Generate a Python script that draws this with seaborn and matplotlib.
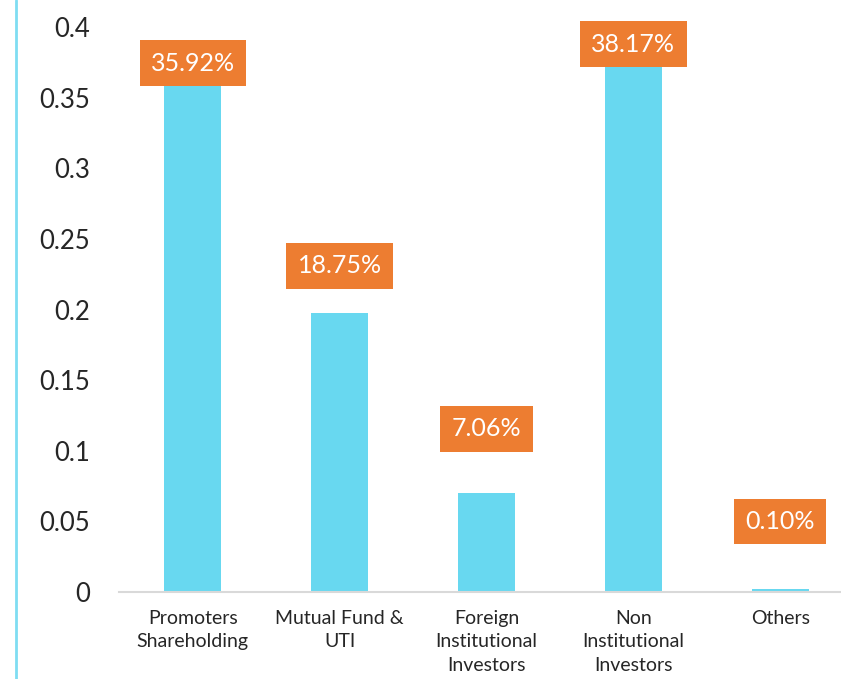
import matplotlib
matplotlib.use("Agg")
import matplotlib.pyplot as plt
import seaborn as sns
import pandas as pd
from matplotlib.lines import Line2D

# -------------------------------
# Data
# -------------------------------
categories = ["Promoters\nShareholding", "Mutual Fund &\nUTI", "Foreign\nInstitutional\nInvestors",
              "Non\nInstitutional\nInvestors", "Others"]
bar_values = [0.359, 0.1975, 0.070, 0.373, 0.002]
label_texts = ["35.92%", "18.75%", "7.06%", "38.17%", "0.10%"]
label_gap = [0.0155, 0.0335, 0.0455, 0.015, 0.048]  # label centre above bar top
y_ticks = [0, 0.05, 0.1, 0.15, 0.2, 0.25, 0.3, 0.35, 0.4]
y_tick_labels = ["0", "0.05", "0.1", "0.15", "0.2", "0.25", "0.3", "0.35", "0.4"]

bar_color = "#68D8F0"
label_color = "#ED7D31"

df = pd.DataFrame({"category": categories, "value": bar_values})

sns.set_style("white")
plt.rcParams["font.family"] = ["Lato", "DejaVu Sans"]

fig = plt.figure(figsize=(8.41, 6.79), dpi=100)
ax = fig.add_axes([0.142, 0.128, 0.873, 0.832])

sns.barplot(data=df, x="category", y="value", color=bar_color, width=0.39,
            saturation=1, linewidth=0, ax=ax)

# orange value boxes
for i, (v, txt, gap) in enumerate(zip(bar_values, label_texts, label_gap)):
    ax.text(i, v + gap, txt, ha="center", va="center", color="white", fontsize=18,
            bbox=dict(boxstyle="square,pad=0.45", fc=label_color, ec="none"))

ax.set_ylim(0, 0.4)
ax.set_xlim(-0.5, len(categories) - 0.5)
ax.set_yticks(y_ticks)
ax.set_yticklabels(y_tick_labels, fontsize=18.5)
ax.tick_params(axis="y", length=0, pad=21)
ax.tick_params(axis="x", length=0, pad=13, labelsize=14)
for lbl in ax.get_xticklabels():
    lbl.set_linespacing(1.45)
    lbl.set_verticalalignment("top")
ax.set_xlabel("")
ax.set_ylabel("")

for side in ["top", "right", "left"]:
    ax.spines[side].set_visible(False)
ax.spines["bottom"].set_color("#D9D9D9")
ax.spines["bottom"].set_linewidth(1.5)

# cyan frame line on the left
fig.add_artist(Line2D([0.019, 0.019], [0, 1], transform=fig.transFigure,
                      color="#7FDDF2", lw=2))

fig.savefig("out.png", dpi=100)
